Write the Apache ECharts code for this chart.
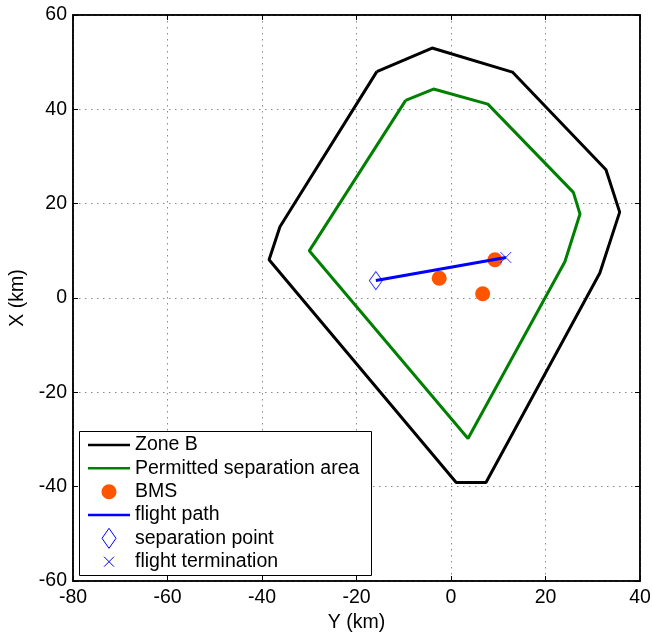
<!DOCTYPE html>
<html>
<head>
<meta charset="utf-8">
<script src="https://cdn.jsdelivr.net/npm/echarts@6/dist/echarts.min.js"></script>
<style>
  html, body { margin: 0; padding: 0; background: #fff; }
  #chart { width: 652px; height: 635px; }
</style>
</head>
<body>
<div id="chart"></div>
<script>
// Boundary of Zone B, as [Y, X] in km (closed polygon)
const zoneB = [
  [-15.7, 48.0], [-4.0, 53.0], [13.0, 47.9], [32.8, 27.2], [35.7, 18.2],
  [31.5, 5.3], [7.4, -39.1], [1.1, -39.1], [-38.5, 8.1], [-36.2, 15.1],
  [-15.7, 48.0]
];
// Permitted separation area, as [Y, X] in km (closed polygon)
const permittedArea = [
  [-9.6, 41.9], [-3.7, 44.3], [7.8, 41.1], [25.9, 22.4], [27.3, 17.8],
  [24.1, 7.7], [3.6, -29.8], [-30.0, 10.0], [-9.6, 41.9]
];
// BMS locations
const bms = [[9.3, 8.1], [-2.5, 4.2], [6.7, 0.9]];
// Flight path from separation point to termination
const separationPoint = [-15.9, 3.7];
const terminationPoint = [11.6, 8.6];
const flightPath = [separationPoint, terminationPoint];

const legendLabels = ['Zone B', 'Permitted separation area', 'BMS', 'flight path', 'separation point', 'flight termination'];
const xTicks = { min: -80, max: 40, step: 20 };
const yTicks = { min: -60, max: 60, step: 20 };

const FONT = 'Arial, "Liberation Sans", sans-serif';
const FS = 19.5;
const crossPath = 'path://M0,0L10,10M10,0L0,10';

const chart = echarts.init(document.getElementById('chart'), null, { renderer: 'canvas' });

const gridLine = { show: true, lineStyle: { color: '#8a8a8a', width: 1, type: [1.5, 4.5] } };
const baseAxis = {
  type: 'value',
  axisLine: { show: true, onZero: false, lineStyle: { color: '#000', width: 1.5 } },
  axisTick: { show: true, inside: true, length: 5, lineStyle: { color: '#000', width: 1 } },
  axisLabel: { color: '#000', fontSize: FS, fontFamily: FONT },
  nameTextStyle: { color: '#000', fontSize: FS, fontFamily: FONT }
};

// Legend rows, drawn as graphics in a boxed panel
const legendX = 79.5, legendY = 431.5, legendW = 292, legendH = 144;
const rowY = [445, 468.3, 491.7, 515, 538.3, 561.7];
const legendGraphics = [
  { type: 'rect', shape: { x: legendX, y: legendY, width: legendW, height: legendH },
    style: { fill: '#fff', stroke: '#000', lineWidth: 1 }, z: 100 },
  { type: 'line', shape: { x1: 88, y1: rowY[0], x2: 130, y2: rowY[0] }, style: { stroke: '#000', lineWidth: 2.5 }, z: 101 },
  { type: 'line', shape: { x1: 88, y1: rowY[1], x2: 130, y2: rowY[1] }, style: { stroke: '#008000', lineWidth: 2.5 }, z: 101 },
  { type: 'circle', shape: { cx: 109, cy: rowY[2], r: 7.5 }, style: { fill: '#ff5500' }, z: 101 },
  { type: 'line', shape: { x1: 88, y1: rowY[3], x2: 130, y2: rowY[3] }, style: { stroke: '#0000ff', lineWidth: 2.5 }, z: 101 },
  { type: 'polygon', shape: { points: [[109, rowY[4] - 10], [116, rowY[4]], [109, rowY[4] + 10], [102, rowY[4]]] },
    style: { fill: 'none', stroke: '#0000ff', lineWidth: 1 }, z: 101 },
  { type: 'polyline', shape: { points: [[104, rowY[5] - 5], [114, rowY[5] + 5]] }, style: { stroke: '#0000ff', lineWidth: 1 }, z: 101 },
  { type: 'polyline', shape: { points: [[114, rowY[5] - 5], [104, rowY[5] + 5]] }, style: { stroke: '#0000ff', lineWidth: 1 }, z: 101 }
];
legendLabels.forEach((label, i) => {
  legendGraphics.push({
    type: 'text', x: 135, y: rowY[i], z: 101,
    style: { text: label, font: FS + 'px ' + FONT, fill: '#000', textVerticalAlign: 'middle', verticalAlign: 'middle' }
  });
});

chart.setOption({
  animation: false,
  backgroundColor: '#fff',
  grid: { left: 73, right: 12, top: 15, bottom: 54, containLabel: false, outerBoundsMode: 'none',
          show: true, borderColor: '#000', borderWidth: 1.5 },
  xAxis: [
    Object.assign({}, baseAxis, {
      min: xTicks.min, max: xTicks.max, interval: xTicks.step, position: 'bottom',
      name: 'Y (km)', nameLocation: 'middle', nameGap: 30,
      axisLabel: Object.assign({}, baseAxis.axisLabel, { margin: 7 }),
      splitLine: gridLine
    }),
    Object.assign({}, baseAxis, {
      min: xTicks.min, max: xTicks.max, interval: xTicks.step, position: 'top',
      axisLabel: { show: false }, splitLine: { show: false }
    })
  ],
  yAxis: [
    Object.assign({}, baseAxis, {
      min: yTicks.min, max: yTicks.max, interval: yTicks.step, position: 'left',
      name: 'X (km)', nameLocation: 'middle', nameGap: 40, nameRotate: 90,
      axisLabel: Object.assign({}, baseAxis.axisLabel, { margin: 6 }),
      splitLine: gridLine
    }),
    Object.assign({}, baseAxis, {
      min: yTicks.min, max: yTicks.max, interval: yTicks.step, position: 'right',
      axisLabel: { show: false }, splitLine: { show: false }
    })
  ],
  series: [
    { name: legendLabels[0], type: 'line', data: zoneB, showSymbol: false, symbol: 'none',
      lineStyle: { color: '#000', width: 3 }, z: 3 },
    { name: legendLabels[1], type: 'line', data: permittedArea, showSymbol: false, symbol: 'none',
      lineStyle: { color: '#008000', width: 3 }, z: 3 },
    { name: legendLabels[2], type: 'scatter', data: bms, symbol: 'circle', symbolSize: 15,
      itemStyle: { color: '#ff5500', opacity: 1 }, z: 4 },
    { name: legendLabels[3], type: 'line', data: flightPath, showSymbol: false, symbol: 'none',
      lineStyle: { color: '#0000ff', width: 3 }, z: 5 },
    { name: legendLabels[4], type: 'scatter', data: [separationPoint], symbol: 'diamond', symbolSize: [13, 18],
      itemStyle: { color: 'none', borderColor: '#0000ff', borderWidth: 1 }, z: 6 },
    { name: legendLabels[5], type: 'scatter', data: [terminationPoint], symbol: crossPath, symbolSize: 11,
      itemStyle: { color: 'none', borderColor: '#0000ff', borderWidth: 1 }, z: 6 }
  ],
  graphic: legendGraphics
});
</script>
</body>
</html>
